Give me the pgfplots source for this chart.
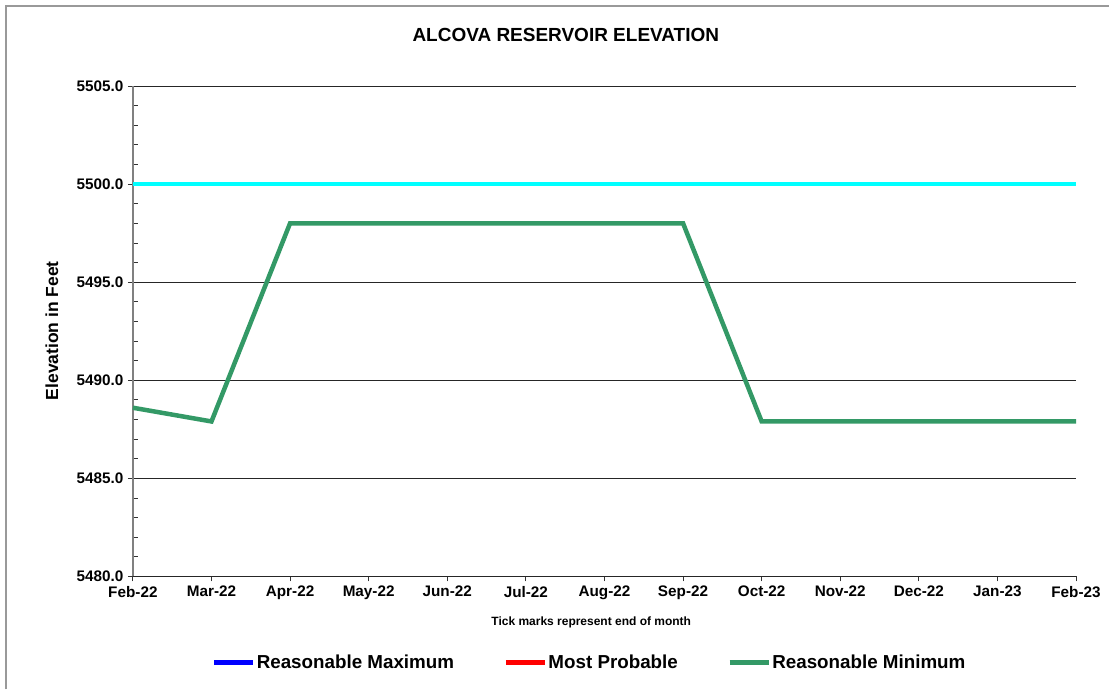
\documentclass[border=0pt]{standalone}
\usepackage{fontspec}
\setmainfont{Liberation Sans}
\usepackage{pgfplots}
\pgfplotsset{compat=1.18}
\definecolor{seagreen}{RGB}{51,153,102}
\definecolor{aqua}{RGB}{0,255,255}
\definecolor{pureblue}{RGB}{0,0,255}
\definecolor{purered}{RGB}{255,0,0}
\begin{document}
\begin{tikzpicture}
\path (0,0) rectangle (1110pt,690pt);
\draw[gray!80, line width=2pt] (6pt,0) -- (6pt,684pt) -- (1110pt,684pt);
\begin{axis}[
  at={(133pt,113pt)}, anchor=south west,
  scale only axis, width=944pt, height=491pt,
  xmin=0, xmax=12, ymin=5480, ymax=5505,
  axis x line*=bottom, axis y line*=left,
  x axis line style={black!85, line width=1pt},
  y axis line style={gray, line width=1.6pt},
  xtick={0,...,12},
  xticklabels={Feb-22,Mar-22,Apr-22,May-22,Jun-22,Jul-22,Aug-22,Sep-22,Oct-22,Nov-22,Dec-22,Jan-23,Feb-23},
  ytick={5480,5485,...,5505},
  minor y tick num=4,
  tick align=outside,
  major tick length=5pt,
  minor tick length=-5pt,
  tick style={black!80, line width=0.8pt},
  ymajorgrids,
  major grid style={black!85, line width=0.8pt},
  /pgf/number format/assume math mode=true,
  yticklabel={\pgfmathprintnumber[fixed,fixed zerofill,precision=1,1000 sep={}]{\tick}},
  tick label style={font=\bfseries\fontsize{15.3}{16}\selectfont},
  xticklabel style={yshift=-1pt},
  yticklabel style={xshift=-1pt},
  title={ALCOVA RESERVOIR ELEVATION},
  title style={at={(0.459,1.0916)}, anchor=center, font=\bfseries\fontsize{19}{21}\selectfont},
  xlabel={Tick marks represent end of month},
  xlabel style={at={(0.486,-0.0937)}, anchor=center, font=\bfseries\fontsize{12}{14}\selectfont},
  ylabel={Elevation in Feet},
  ylabel style={at={(-0.0858,0.501)}, anchor=center, rotate=0, font=\bfseries\fontsize{17.5}{19}\selectfont},
  legend columns=3,
  legend style={at={(0.484,-0.175)}, anchor=center, draw=none, fill=none,
    font=\bfseries\fontsize{18.8}{20}\selectfont,
    nodes={inner xsep=1.5pt},
    /tikz/every even column/.append style={column sep=48pt}},
  legend image code/.code={\draw[#1, line width=4.5pt] (0pt,0pt) -- (39pt,0pt);},
  clip=false,
]
\addlegendimage{pureblue}
\addlegendentry{Reasonable Maximum}
\addlegendimage{purered}
\addlegendentry{Most Probable}
\addplot[aqua, line width=4pt, forget plot] coordinates {(0,5500) (12,5500)};
\addplot[seagreen, line width=4.5pt] coordinates {
(0,5488.6) (1,5487.9) (2,5498.0) (3,5498.0) (4,5498.0) (5,5498.0) (6,5498.0) (7,5498.0) (8,5487.9) (9,5487.9) (10,5487.9) (11,5487.9) (12,5487.9)};
\addlegendentry{Reasonable Minimum}
\end{axis}
\end{tikzpicture}
\end{document}
